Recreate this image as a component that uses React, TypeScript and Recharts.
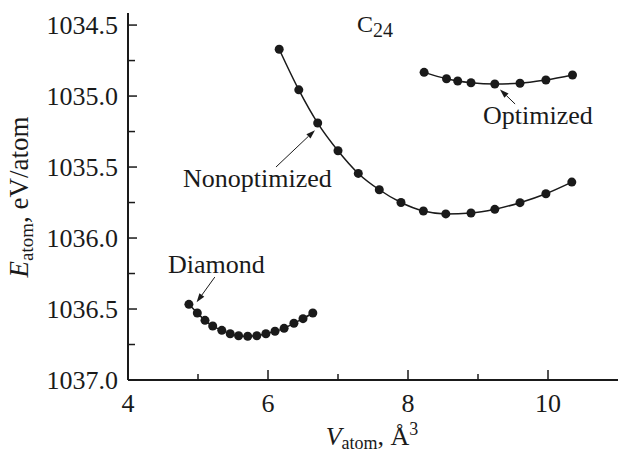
import React from "react";
import { LineChart, Line, XAxis, YAxis, ReferenceLine, ReferenceDot } from "recharts";

const diamondV = [4.87, 4.99, 5.10, 5.21, 5.34, 5.46, 5.58, 5.71, 5.84, 5.97, 6.10, 6.23, 6.37, 6.50, 6.64];
const diamondE = [1036.467, 1036.528, 1036.58, 1036.62, 1036.65, 1036.674, 1036.688, 1036.692, 1036.688, 1036.674, 1036.657, 1036.636, 1036.60, 1036.568, 1036.528];

const nonoptV = [6.16, 6.44, 6.71, 7.00, 7.29, 7.59, 7.90, 8.22, 8.54, 8.90, 9.24, 9.60, 9.97, 10.34];
const nonoptE = [1034.67, 1034.956, 1035.19, 1035.385, 1035.545, 1035.66, 1035.75, 1035.81, 1035.83, 1035.824, 1035.798, 1035.751, 1035.688, 1035.606];

const optV = [8.23, 8.55, 8.71, 8.90, 9.24, 9.60, 9.97, 10.35];
const optE = [1034.833, 1034.878, 1034.894, 1034.906, 1034.915, 1034.91, 1034.887, 1034.852];

const xTicks = [4, 5, 6, 7, 8, 9, 10];
const xLabeled = [4, 6, 8, 10];
const yTicks = [1034.5, 1034.75, 1035, 1035.25, 1035.5, 1035.75, 1036, 1036.25, 1036.5, 1036.75, 1037];
const yLabeled = [1034.5, 1035, 1035.5, 1036, 1036.5, 1037];

const toPts = (v: number[], e: number[]) => v.map((x, i) => ({ v: x, e: e[i] }));
const diamond = toPts(diamondV, diamondE);
const nonopt = toPts(nonoptV, nonoptE);
const opt = toPts(optV, optE);

const FONT = "'Liberation Serif', 'DejaVu Serif', serif";
const INK = "#1a1a1a";

const XTick = (p: any) => {
  const { x, y, payload } = p;
  const major = xLabeled.includes(payload.value);
  return (
    <g>
      <line x1={x} y1={y} x2={x} y2={y - (major ? 10 : 6)} stroke={INK} strokeWidth={1.5} />
      {major && (
        <text x={x} y={y + 32} textAnchor="middle" fontFamily={FONT} fontSize={26} fill={INK}>
          {payload.value}
        </text>
      )}
    </g>
  );
};

const YTick = (p: any) => {
  const { x, y, payload } = p;
  const major = yLabeled.includes(payload.value);
  return (
    <g>
      <line x1={x} y1={y} x2={x + (major ? 9 : 7)} y2={y} stroke={INK} strokeWidth={1.5} />
      {major && (
        <text x={x - 10} y={y + 9} textAnchor="end" fontFamily={FONT} fontSize={26} fill={INK}>
          {payload.value.toFixed(1)}
        </text>
      )}
    </g>
  );
};

const Arrow = (p: any) => {
  const { x1, y1, x2, y2 } = p;
  const ang = Math.atan2(y2 - y1, x2 - x1);
  const L = 9, W = 3;
  const bx = x2 - L * Math.cos(ang), by = y2 - L * Math.sin(ang);
  const px = -Math.sin(ang) * W, py = Math.cos(ang) * W;
  return (
    <g>
      <line x1={x1} y1={y1} x2={bx} y2={by} stroke={INK} strokeWidth={1} />
      <polygon points={`${x2},${y2} ${bx + px},${by + py} ${bx - px},${by - py}`} fill={INK} />
    </g>
  );
};

const makeText = (label: string) => (p: any) => (
  <text x={p.cx} y={p.cy} fontFamily={FONT} fontSize={26} fill={INK}>
    {label}
  </text>
);

const C24 = (p: any) => (
  <text x={p.cx} y={p.cy} fontFamily={FONT} fontSize={24} fill={INK}>
    C<tspan fontSize={20} dy={5}>24</tspan>
  </text>
);

const XLabel = () => (
  <text x={372} y={445} textAnchor="middle" fontFamily={FONT} fontSize={26} fill={INK}>
    <tspan fontStyle="italic">V</tspan>
    <tspan fontSize={18} dy={4}>atom</tspan>
    <tspan dy={-4}>, Å</tspan>
    <tspan fontSize={18} dy={-10}>3</tspan>
  </text>
);

const YLabel = () => (
  <text
    x={28}
    y={197}
    textAnchor="middle"
    transform="rotate(-90, 28, 197)"
    fontFamily={FONT}
    fontSize={27}
    fill={INK}
  >
    <tspan fontStyle="italic">E</tspan>
    <tspan fontSize={19} dy={5}>atom</tspan>
    <tspan dy={-5}>, eV/atom</tspan>
  </text>
);

const dotStyle = { r: 4.5, fill: INK, stroke: INK, strokeWidth: 0 };

export default function App() {
  return (
    <div style={{ position: "absolute", left: 0, top: 0, background: "#fff" }}>
      <LineChart width={618} height={455} margin={{ top: 13, right: 0, bottom: 0, left: 0 }}>
        <XAxis
          type="number"
          dataKey="v"
          domain={[4, 11]}
          ticks={xTicks}
          allowDataOverflow
          height={75}
          tickSize={0}
          tickMargin={0}
          tickLine={false}
          tick={<XTick />}
          axisLine={{ stroke: INK, strokeWidth: 2 }}
          label={{ content: <XLabel /> }}
          interval={0}
        />
        <YAxis
          type="number"
          dataKey="e"
          domain={[1034.415, 1037]}
          reversed
          ticks={yTicks}
          allowDataOverflow
          width={128}
          tickSize={0}
          tickMargin={0}
          tickLine={false}
          tick={<YTick />}
          axisLine={{ stroke: INK, strokeWidth: 2 }}
          label={{ content: <YLabel /> }}
          interval={0}
        />
        <Line data={nonopt} dataKey="e" type="monotone" stroke={INK} strokeWidth={1.5} dot={dotStyle} activeDot={false} isAnimationActive={false} />
        <Line data={opt} dataKey="e" type="monotone" stroke={INK} strokeWidth={1.5} dot={dotStyle} activeDot={false} isAnimationActive={false} />
        <Line data={diamond} dataKey="e" type="monotone" stroke={INK} strokeWidth={1.5} dot={dotStyle} activeDot={false} isAnimationActive={false} />
        <ReferenceLine segment={[{ x: 6.114, y: 1035.5 }, { x: 6.671, y: 1035.24 }]} shape={<Arrow />} />
        <ReferenceLine segment={[{ x: 9.53, y: 1035.056 }, { x: 9.314, y: 1034.953 }]} shape={<Arrow />} />
        <ReferenceLine segment={[{ x: 5.24, y: 1036.275 }, { x: 4.98, y: 1036.453 }]} shape={<Arrow />} />
        <ReferenceDot x={4.786} y={1035.641} shape={makeText("Nonoptimized")} />
        <ReferenceDot x={9.071} y={1035.197} shape={makeText("Optimized")} />
        <ReferenceDot x={4.571} y={1036.246} shape={makeText("Diamond")} />
        <ReferenceDot x={7.271} y={1034.549} shape={<C24 />} />
      </LineChart>
    </div>
  );
}
